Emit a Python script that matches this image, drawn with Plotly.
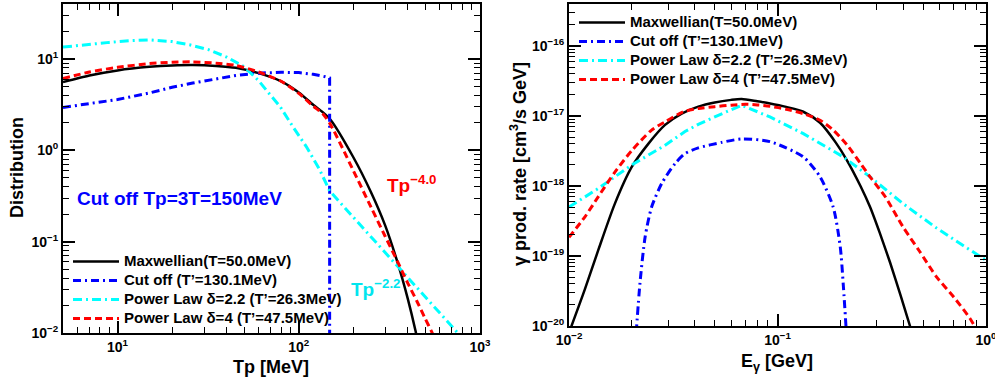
import numpy as np
import plotly.graph_objects as go

# ---------------- Left panel data: proton distributions ----------------
tp_maxw = [5, 7, 10, 15, 20, 26, 35, 45, 60, 80, 100, 120, 136, 150, 200, 250, 300, 350, 400, 440, 460]
d_maxw = [5.6, 6.6, 7.5, 8.2, 8.5, 8.6, 8.4, 8.0, 7.0, 5.7, 4.3, 3.15, 2.6, 2.15, 0.84, 0.35, 0.15, 0.06, 0.0235, 0.0107, 0.007]

tp_cut = [5, 7, 10, 15, 20, 26, 35, 45, 60, 80, 100, 120, 140, 148, 148]
d_cut = [2.95, 3.25, 3.6, 4.25, 4.9, 5.45, 6.05, 6.6, 7.0, 7.15, 7.1, 6.8, 6.4, 6.2, 0.005]

tp_pl22 = [5, 7, 9, 12, 15, 20, 25, 32, 40, 50, 60, 66, 79, 93, 110, 130, 148, 200, 300, 400, 500, 600, 740, 800]
d_pl22 = [13.5, 14.6, 15.2, 15.9, 16.2, 15.5, 14.3, 12.6, 10.5, 8.2, 5.8, 4.6, 3.0, 1.8, 1.1, 0.62, 0.36,
          0.185, 0.076, 0.040, 0.0247, 0.0165, 0.0105, 0.0088]

tp_pl4 = [5, 7, 10, 15, 20, 26, 35, 45, 60, 80, 100, 120, 136, 150, 200, 250, 300, 350, 400, 450, 500, 540, 600]
d_pl4 = [6.1, 7.2, 8.1, 8.9, 9.2, 9.3, 9.0, 8.5, 7.2, 5.7, 4.2, 3.05, 2.5, 1.9, 0.60, 0.24, 0.114, 0.061, 0.035,
         0.022, 0.0142, 0.0104, 0.0067]

# ---------------- Right panel data: gamma production rate ----------------
eg_maxw = [0.0100, 0.0119, 0.0138, 0.0166, 0.020, 0.024, 0.0288, 0.0347, 0.0417, 0.05, 0.06, 0.0673,
           0.08, 0.092, 0.11, 0.133, 0.16, 0.19, 0.215, 0.25, 0.278, 0.31, 0.347, 0.39, 0.432, 0.45]
r_maxw = [8.0e-21, 3.3e-20, 1.2e-19, 5.6e-19, 1.87e-18, 4.0e-18, 7.4e-18, 1.08e-17, 1.36e-17, 1.56e-17,
          1.7e-17, 1.75e-17, 1.62e-17, 1.51e-17, 1.35e-17, 1.15e-17, 8.0e-18, 4.2e-18, 2.35e-18, 1.0e-18,
          5.0e-19, 2.1e-19, 8.0e-20, 2.7e-20, 1.0e-20, 7e-21]

eg_cut = [0.021, 0.0219, 0.0232, 0.0249, 0.0279, 0.0323, 0.036, 0.0417, 0.054, 0.0675, 0.092, 0.133, 0.16,
          0.185, 0.2, 0.207, 0.214]
r_cut = [8e-21, 4.1e-20, 1.9e-19, 5.0e-19, 1.1e-18, 2.1e-18, 2.9e-18, 3.5e-18, 4.2e-18, 4.7e-18, 4.3e-18,
         2.6e-18, 1.35e-18, 5.0e-19, 1.35e-19, 3.7e-20, 8e-21]

eg_pl22 = [0.01, 0.0138, 0.02, 0.0288, 0.036, 0.0417, 0.055, 0.0675, 0.092, 0.133, 0.207, 0.278, 0.40, 0.58, 0.78, 1.0]
r_pl22 = [5.0e-19, 9.2e-19, 2.0e-18, 3.8e-18, 6.0e-18, 7.6e-18, 1.1e-17, 1.42e-17, 9.7e-18, 5.6e-18, 2.6e-18,
          1.35e-18, 5.6e-19, 2.5e-19, 1.4e-19, 8.7e-20]

eg_pl4 = [0.01, 0.0119, 0.0138, 0.0166, 0.02, 0.0249, 0.0288, 0.0353, 0.0417, 0.05, 0.06, 0.07, 0.08, 0.092, 0.11,
          0.133, 0.16, 0.185, 0.215, 0.25, 0.278, 0.33, 0.40, 0.48, 0.58, 0.70, 0.838, 0.92]
r_pl4 = [1.85e-19, 3.6e-19, 7.0e-19, 1.58e-18, 3.2e-18, 6.3e-18, 8.2e-18, 1.15e-17, 1.28e-17, 1.36e-17, 1.43e-17,
         1.47e-17, 1.44e-17, 1.38e-17, 1.25e-17, 1.08e-17, 8.7e-18, 6.3e-18, 3.9e-18, 2.1e-18, 1.35e-18,
         6.9e-19, 2.6e-19, 1.17e-19, 5.0e-20, 2.6e-20, 1.28e-20, 8e-21]

# ---------------- labels ----------------
names = ["Maxwellian(T=50.0MeV)", "Cut off (T’=130.1MeV)",
         "Power Law δ=2.2 (T’=26.3MeV)", "Power Law δ=4 (T’=47.5MeV)"]
colors = ["#000000", "#0000ff", "#00ffff", "#ff0000"]

left_xticks = [10, 100, 1000]
left_xtext = ["10<sup>1</sup>", "10<sup>2</sup>", "10<sup>3</sup>"]
left_yticks = [0.01, 0.1, 1, 10]
left_ytext = ["10<sup>−2</sup>", "10<sup>−1</sup>", "10<sup>0</sup>", "10<sup>1</sup>"]
right_xticks = [0.01, 0.1, 1]
right_xtext = ["10<sup>−2</sup>", "10<sup>−1</sup>", "10<sup>0</sup>"]
right_yticks = [1e-20, 1e-19, 1e-18, 1e-17, 1e-16]
right_ytext = ["10<sup>−20</sup>", "10<sup>−19</sup>", "10<sup>−18</sup>", "10<sup>−17</sup>", "10<sup>−16</sup>"]

FONT = "Liberation Sans, Arial, sans-serif"
W, H = 995, 382

def minor_vals(lo_exp, hi_exp):
    v = []
    for e in range(lo_exp, hi_exp + 1):
        for m in range(2, 10):
            v.append(m * 10.0 ** e)
    return v

styles = [
    dict(color=colors[0], width=2.5, dash="solid"),
    dict(color=colors[1], width=3, dash="8px,4px,2px,4px"),
    dict(color=colors[2], width=3, dash="9px,4px,2px,4px"),
    dict(color=colors[3], width=3, dash="7px,4px"),
]
left_shapes = ["spline", "linear", "linear", "spline"]
right_shapes = ["spline", "spline", "linear", "spline"]

fig = go.Figure()

left_series = [(tp_maxw, d_maxw), (tp_cut, d_cut), (tp_pl22, d_pl22), (tp_pl4, d_pl4)]
right_series = [(eg_maxw, r_maxw), (eg_cut, r_cut), (eg_pl22, r_pl22), (eg_pl4, r_pl4)]

def legname(s):
    return '<span style="font-size:15px">' + s + '</span>'

for i, (xs, ys) in enumerate(left_series):
    fig.add_trace(go.Scatter(x=xs, y=ys, mode="lines", name=legname(names[i]),
                             line=dict(styles[i], shape=left_shapes[i], smoothing=0.7),
                             xaxis="x", yaxis="y", legend="legend"))
for i, (xs, ys) in enumerate(right_series):
    fig.add_trace(go.Scatter(x=xs, y=ys, mode="lines", name=legname(names[i]),
                             line=dict(styles[i], shape=right_shapes[i], smoothing=0.7),
                             xaxis="x2", yaxis="y2", legend="legend2"))

axis_common = dict(
    type="log", showline=True, linewidth=2, linecolor="black", mirror="ticks",
    ticks="inside", ticklen=12, tickwidth=1.5, tickcolor="black", automargin=False,
    showgrid=False, zeroline=False, tickmode="array", ticklabeloverflow="allow",
    tickfont=dict(family=FONT, size=14, color="black", weight="bold"),
)

L_x0, L_x1 = 63 / W, 480 / W
R_x0, R_x1 = 569 / W, 986 / W
L_y0, L_y1 = 1 - 333 / H, 1 - 4 / H
R_y0, R_y1 = 1 - 326 / H, 1 - 4 / H

leg_common = dict(xanchor="left", yanchor="top", bgcolor="rgba(0,0,0,0)", borderwidth=0,
                  tracegroupgap=0, itemwidth=46,
                  font=dict(family=FONT, size=12, color="black", weight="bold"))

fig.update_layout(
    width=W, height=H, margin=dict(l=0, r=0, t=0, b=0, autoexpand=False),
    paper_bgcolor="white", plot_bgcolor="white",
    font=dict(family=FONT, color="black"),
    xaxis=dict(axis_common, domain=[L_x0, L_x1], anchor="y", range=[np.log10(5), 3],
               tickvals=left_xticks, ticktext=left_xtext,
               minor=dict(ticks="inside", ticklen=6, tickwidth=1, tickcolor="black",
                          tickmode="array", tickvals=minor_vals(0, 2))),
    yaxis=dict(axis_common, domain=[L_y0, L_y1], anchor="x", range=[-2, np.log10(40)],
               tickvals=left_yticks, ticktext=left_ytext,
               minor=dict(ticks="inside", ticklen=6, tickwidth=1, tickcolor="black",
                          tickmode="array", tickvals=minor_vals(-2, 1))),
    xaxis2=dict(axis_common, domain=[R_x0, R_x1], anchor="y2", range=[-2, 0],
                tickvals=right_xticks, ticktext=right_xtext,
                minor=dict(ticks="inside", ticklen=6, tickwidth=1, tickcolor="black",
                           tickmode="array", tickvals=minor_vals(-2, -1))),
    yaxis2=dict(axis_common, domain=[R_y0, R_y1], anchor="x2", range=[-20, -15.4],
                tickvals=right_yticks, ticktext=right_ytext,
                minor=dict(ticks="inside", ticklen=6, tickwidth=1, tickcolor="black",
                           tickmode="array", tickvals=minor_vals(-20, -16))),
    legend=dict(leg_common, x=68 / W, y=1 - 247 / H),
    legend2=dict(leg_common, x=574 / W, y=1 - 8 / H),
)

ann = [
    dict(text="Distribution", x=17 / W, y=1 - 168 / H, textangle=-90, font=dict(size=18)),
    dict(text="Tp [MeV]", x=271 / W, y=1 - 367 / H, font=dict(size=18)),
    dict(text="γ prod. rate [cm<sup>3</sup>/s GeV]", x=518 / W, y=1 - 164 / H, textangle=-90,
         font=dict(size=18)),
    dict(text="E<sub>γ</sub> [GeV]", x=777 / W, y=1 - 362 / H, font=dict(size=18)),
    dict(text="Cut off Tp=3T=150MeV", x=179 / W, y=1 - 198 / H, font=dict(size=19, color="#0000ff")),
    dict(text="Tp<sup>−4.0</sup>", x=411 / W, y=1 - 184 / H, font=dict(size=19, color="#ff0000")),
    dict(text="Tp<sup>−2.2</sup>", x=375 / W, y=1 - 288 / H, font=dict(size=19, color="#00e5ee")),
]
for a in ann:
    f = dict(family=FONT, color="black", weight="bold")
    f.update(a.pop("font"))
    fig.add_annotation(xref="paper", yref="paper", showarrow=False, xanchor="center",
                       yanchor="middle", font=f, **a)

fig.write_html("out.html")
